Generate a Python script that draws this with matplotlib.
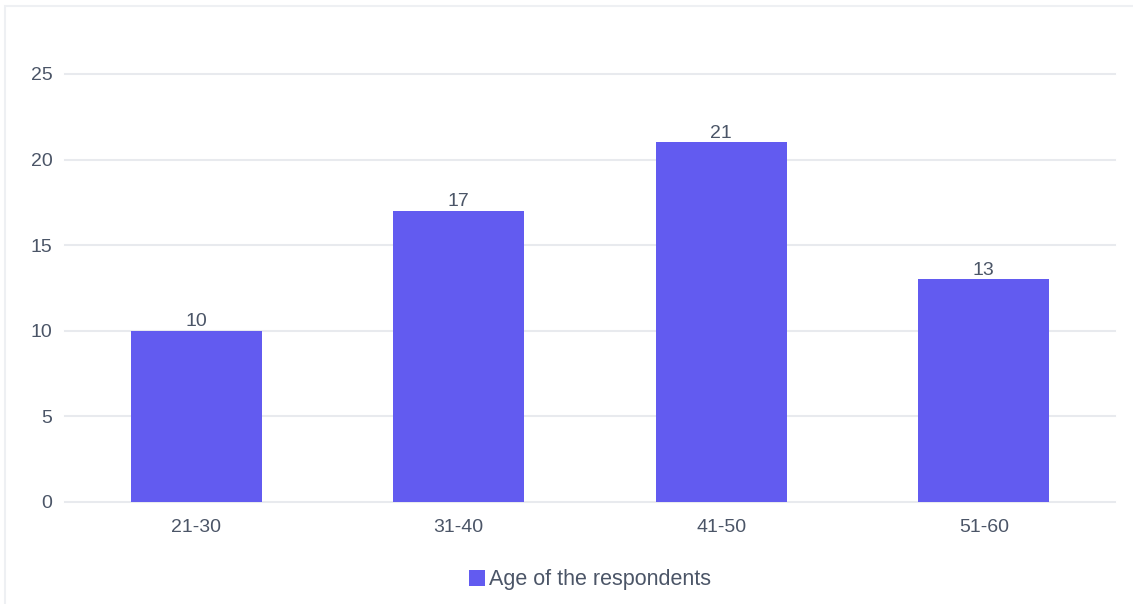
import matplotlib.pyplot as plt
from matplotlib.patches import Rectangle

plt.rcParams['font.family'] = ['Liberation Sans', 'DejaVu Sans']

# age groups and respondent counts
grupos = ['21-30', '31-40', '41-50', '51-60']
respondentes = [10, 17, 21, 13]
y_ticks = [0, 5, 10, 15, 20, 25]

color_barra = '#625BF0'
color_texto = '#4B5567'
color_grid = '#E8EAEE'

fig = plt.figure(figsize=(11.33, 6.04), dpi=100)
fig.patch.set_facecolor('white')

# thin outer frame
fig.patches.append(Rectangle((5 / 1133, -0.1), 1.2, (604 - 6) / 604 + 0.1,
                             transform=fig.transFigure, fill=False,
                             edgecolor='#EEF0F3', linewidth=1.5))

ax = fig.add_axes([65 / 1133, 102 / 604, 1050 / 1133, 428 / 604])
x = range(len(grupos))
ax.bar(x, respondentes, width=0.5, color=color_barra, zorder=3)

for i, v in enumerate(respondentes):
    ax.text(i, v + 0.05, str(v), ha='center', va='bottom',
            fontsize=14, color=color_texto)

ax.set_xlim(-0.5, 3.5)
ax.set_ylim(0, 25)
ax.set_yticks(y_ticks)
ax.set_xticks(list(x))
ax.set_xticklabels(grupos)
ax.tick_params(axis='both', length=0, labelsize=14, labelcolor=color_texto)
ax.tick_params(axis='y', pad=9)
ax.tick_params(axis='x', pad=12)
ax.grid(axis='y', color=color_grid, linewidth=1.5, zorder=0)
for gl in ax.get_ygridlines():
    gl.set_clip_on(False)
for s in ax.spines.values():
    s.set_visible(False)

# legend
ax.bar([0], [0], color=color_barra, label='Age of the respondents')
leg = ax.legend(loc='upper center', bbox_to_anchor=(0.5, -0.112), frameon=False,
                fontsize=15.5, handlelength=0.75, handleheight=0.75, handletextpad=0.2)
for t in leg.get_texts():
    t.set_color(color_texto)

fig.savefig('out.png', dpi=100)
